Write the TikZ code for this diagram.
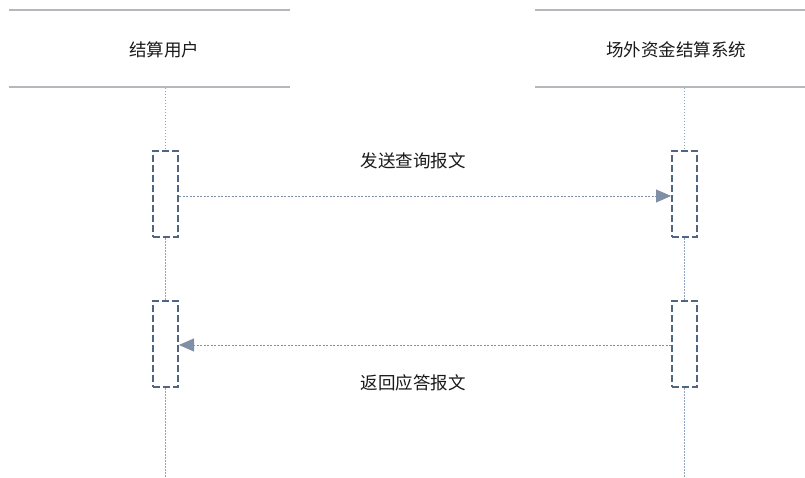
\documentclass[tikz,border=0pt]{standalone}
\usepackage{fontspec}
\setmainfont{Noto Sans CJK SC}
\usetikzlibrary{arrows.meta}
\definecolor{boxc}{HTML}{4F6580}
\definecolor{lifec}{HTML}{8FA3BF}
\definecolor{arrc}{HTML}{7F8FA6}
\definecolor{headc}{HTML}{B4B8BC}
\tikzset{
  headline/.style={draw=headc, line width=1.5pt},
  lifeline/.style={draw=lifec, line width=0.9pt, dash pattern=on 1.5pt off 1.5pt},
  actbox/.style={draw=boxc, line width=2pt, dash pattern=on 7pt off 3pt, minimum width=25pt, minimum height=86pt, inner sep=0pt, fill=white},
  msg/.style={draw=arrc, line width=0.9pt, dash pattern=on 2pt off 1.5pt, -{Triangle[length=15pt, width=13pt, fill=arrc]}},
  lbl/.style={font=\fontsize{17.5pt}{20pt}\selectfont, text=black!90, inner sep=0pt}
}
\begin{document}
\begin{tikzpicture}[x=1pt, y=-1pt]
\useasboundingbox (0,0) rectangle (805,478);
% headers
\draw[headline] (9,10) -- (290,10);
\draw[headline] (9,87) -- (290,87);
\draw[headline] (535,10) -- (805,10);
\draw[headline] (535,87) -- (805,87);
\node[lbl] (u) at (164,50) {结算用户};
\node[lbl] (s) at (676,50) {场外资金结算系统};
% lifelines
\coordinate (ut) at (165,88);
\coordinate (ub) at (165,478);
\coordinate (st) at (684,88);
\coordinate (sb) at (684,478);
\draw[lifeline] (ut) -- (ub);
\draw[lifeline] (st) -- (sb);
% activations
\node[actbox] (a1) at (165.5,194.5) {};
\node[actbox] (b1) at (684.5,194.5) {};
\node[actbox] (a2) at (165.5,344) {};
\node[actbox] (b2) at (684.5,344) {};
% messages
\draw[msg] (a1.east |- 0,196) -- (b1.west |- 0,196);
\draw[msg] (b2.west |- 0,345) -- (a2.east |- 0,345);
\node[lbl] (m1) at (413,161) {发送查询报文};
\node[lbl] (m2) at (413,383) {返回应答报文};
\end{tikzpicture}
\end{document}
